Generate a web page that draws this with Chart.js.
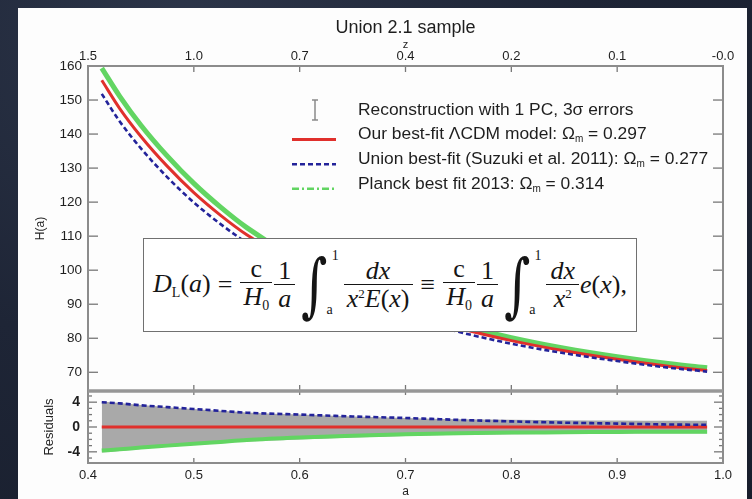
<!DOCTYPE html>
<html>
<head>
<meta charset="utf-8">
<script src="https://cdn.jsdelivr.net/npm/chart.js@4.4.1/dist/chart.umd.min.js"></script>
<style>
  html, body { margin: 0; padding: 0; }
  body {
    width: 752px; height: 499px; overflow: hidden; position: relative;
    background: radial-gradient(ellipse at 25% 5%, #2c3549 0%, #1e2536 50%, #181e2c 100%);
  }
  #panel { position: absolute; left: 18px; top: 8px; width: 729px; height: 491px; background: #fdfdfd; }
  #chart { display: block; }
  #formula {
    position: absolute; left: 125px; top: 230px; width: 494px; height: 94px;
    box-sizing: border-box; border: 1.5px solid #707070; background: #fff;
    display: flex; align-items: center; justify-content: center;
    font-family: "Liberation Serif", "DejaVu Serif", serif; font-size: 26px; color: #151515;
    white-space: nowrap;
  }
  #formula i { font-style: italic; }
  #formula sub { font-size: 14px; vertical-align: -5px; }
  #formula sup { font-size: 13px; vertical-align: 9px; }
  .op { margin: 0 7px; }
  .frac { display: inline-flex; flex-direction: column; align-items: center; margin: 0 1px; }
  .frac .num { border-bottom: 1.4px solid #151515; padding: 0 4px 0; line-height: 1.0; text-align: center; align-self: stretch; }
  .frac .den { line-height: 1.05; padding: 0 3px; }
  .int { position: relative; display: inline-block; margin: 0 10px 0 0; }
  .int .sign { display: inline-block; font-size: 70px; font-family: "DejaVu Serif", serif; line-height: 1; transform: scaleX(0.72); }
  .int .hi, .int .lo { position: absolute; font-size: 14px; font-family: "Liberation Serif", serif; }
  .int .hi { top: -2px; right: -6px; }
  .int .lo { bottom: 2px; right: 0px; }
</style>
</head>
<body>
<div id="panel">
  <canvas id="chart" width="729" height="491"></canvas>
  <div id="formula">
    <span><i>D</i><sub>L</sub>(<i>a</i>)</span>
    <span class="op">=</span>
    <span class="frac"><span class="num">c</span><span class="den"><i>H</i><sub>0</sub></span></span>
    <span class="frac"><span class="num">1</span><span class="den"><i>a</i></span></span>
    <span class="int"><span class="sign">∫</span><span class="hi">1</span><span class="lo">a</span></span>
    <span class="frac"><span class="num"><i>dx</i></span><span class="den"><i>x</i><sup>2</sup><i>E</i>(<i>x</i>)</span></span>
    <span class="op">≡</span>
    <span class="frac"><span class="num">c</span><span class="den"><i>H</i><sub>0</sub></span></span>
    <span class="frac"><span class="num">1</span><span class="den"><i>a</i></span></span>
    <span class="int"><span class="sign">∫</span><span class="hi">1</span><span class="lo">a</span></span>
    <span class="frac"><span class="num"><i>dx</i></span><span class="den"><i>x</i><sup>2</sup></span></span>
    <span><i>e</i>(<i>x</i>),</span>
  </div>
</div>
<script>
// scale factor a and tick labels
const aGrid = [0.413, 0.43, 0.45, 0.475, 0.5, 0.525, 0.55, 0.6, 0.65, 0.7, 0.75, 0.8, 0.85, 0.9, 0.95, 0.985];
const aTicks = [0.4, 0.5, 0.6, 0.7, 0.8, 0.9, 1.0];
const zTickLabels = ['1.5', '1.0', '0.7', '0.4', '0.2', '0.1', '-0.0'];
const hTicks = [70, 80, 90, 100, 110, 120, 130, 140, 150, 160];
const resTicks = [-4, 0, 4];

// H(a) for the three models
const hOurs   = [155.8, 147.5, 139.3, 130.5, 122.8, 116.2, 110.4, 100.9, 93.5, 87.7, 83.0, 79.3, 76.3, 73.8, 71.7, 70.5];
const hUnion  = [151.8, 143.7, 135.8, 127.3, 119.9, 113.6, 108.1, 98.9, 91.8, 86.3, 81.9, 78.4, 75.6, 73.3, 71.3, 70.2];
const hPlanck = [159.4, 151.1, 142.6, 133.5, 125.5, 118.6, 112.5, 102.6, 94.9, 88.9, 84.0, 80.2, 77.1, 74.6, 72.5, 71.3];

// residuals and the 3 sigma reconstruction band
const resOurs   = [0, 0, 0, 0, 0, 0, 0, 0, 0, 0, 0, 0, 0, 0, 0, 0];
const resUnion  = [4.0, 3.8, 3.5, 3.2, 2.9, 2.6, 2.3, 2.0, 1.7, 1.45, 1.15, 0.9, 0.7, 0.55, 0.4, 0.35];
const resPlanck = [-3.8, -3.6, -3.3, -3.0, -2.7, -2.4, -2.1, -1.7, -1.4, -1.15, -1.0, -0.9, -0.85, -0.8, -0.75, -0.75];
const bandHi = [4.1, 3.85, 3.55, 3.2, 2.9, 2.6, 2.35, 2.0, 1.7, 1.45, 1.25, 1.15, 1.1, 1.05, 1.0, 1.0];
const bandLo = [-4.1, -3.85, -3.55, -3.2, -2.9, -2.6, -2.35, -2.0, -1.7, -1.45, -1.25, -1.15, -1.1, -1.05, -1.0, -1.0];

const RED = '#e0302c';
const BLUE = '#23239a';
const GREEN = '#62d562';
const BAND = '#a9a9a9';
const TEXT = '#1e1e1e';
const SANS = '"Liberation Sans", Arial, sans-serif';
const LEGEND_SIZE = 17.4;

const pts = (ys) => aGrid.map((a, i) => ({ x: a, y: ys[i] }));

const line = (label, ys, yAxisID, color, width, extra) => Object.assign({
  label: label,
  data: pts(ys),
  yAxisID: yAxisID,
  borderColor: color,
  backgroundColor: color,
  borderWidth: width,
  pointRadius: 0,
  fill: false,
  cubicInterpolationMode: 'monotone',
}, extra || {});

const datasets = [
  // top panel
  line('Planck best fit 2013: Ω_m = 0.314', hPlanck, 'y', GREEN, 5, { order: 6, legendRow: 3, legendDash: [7, 3, 2, 3] }),
  line('Our best-fit ΛCDM model: Ω_m = 0.297', hOurs, 'y', RED, 3, { order: 4, legendRow: 1 }),
  line('Union best-fit (Suzuki et al. 2011): Ω_m = 0.277', hUnion, 'y', BLUE, 2.6, { order: 2, borderDash: [5, 3], legendRow: 2 }),
  // residual panel
  line('Reconstruction with 1 PC, 3σ errors', bandHi, 'res', BAND, 0, { order: 20, fill: '+1', backgroundColor: BAND, legendRow: 0 }),
  line('band lower', bandLo, 'res', BAND, 0, { order: 21 }),
  line('Planck residual', resPlanck, 'res', GREEN, 4, { order: 7 }),
  line('Our residual', resOurs, 'res', RED, 3, { order: 5 }),
  line('Union residual', resUnion, 'res', BLUE, 2.6, { order: 3, borderDash: [5, 3] }),
];

// frame, separator and inward tick marks on every panel edge
const panelFrame = {
  id: 'panelFrame',
  afterDatasetsDraw(chart) {
    const { ctx, chartArea: ca, scales } = chart;
    const { x, y, res } = scales;
    const seg = (x1, y1, x2, y2) => { ctx.beginPath(); ctx.moveTo(x1, y1); ctx.lineTo(x2, y2); ctx.stroke(); };
    ctx.save();
    ctx.strokeStyle = '#777';
    ctx.lineWidth = 1.3;
    x.ticks.forEach(t => {
      const px = x.getPixelForValue(t.value);
      if (px <= ca.left + 2 || px >= ca.right - 2) return;
      seg(px, y.top, px, y.top + 6);
      seg(px, y.bottom, px, y.bottom - 6);
      seg(px, res.top, px, res.top + 4);
      seg(px, res.bottom, px, res.bottom - 5);
    });
    y.ticks.forEach(t => {
      const py = y.getPixelForValue(t.value);
      seg(ca.left, py, ca.left + 10, py);
      seg(ca.right, py, ca.right - 10, py);
    });
    for (let v = Math.ceil(res.min); v <= Math.floor(res.max); v++) {
      const py = res.getPixelForValue(v);
      const len = v % 4 === 0 ? 9 : 4;
      seg(ca.left, py, ca.left + len, py);
      seg(ca.right, py, ca.right - len, py);
    }
    ctx.strokeStyle = '#8c8c8c';
    ctx.lineWidth = 2;
    ctx.strokeRect(ca.left, y.top, ca.right - ca.left, y.bottom - y.top);
    ctx.strokeRect(ca.left, res.top, ca.right - ca.left, res.bottom - res.top);
    ctx.lineWidth = 3.5;
    ctx.strokeStyle = '#979797';
    seg(ca.left, y.bottom, ca.right, y.bottom);
    ctx.restore();
  }
};

// legend in the upper right of the H(a) panel
function drawLabel(ctx, text, x, y) {
  const parts = text.split('_m');
  ctx.font = LEGEND_SIZE + 'px ' + SANS;
  ctx.fillText(parts[0], x, y);
  if (parts.length > 1) {
    let cx = x + ctx.measureText(parts[0]).width;
    ctx.font = '10px ' + SANS;
    ctx.fillText('m', cx, y + 5);
    cx += ctx.measureText('m').width;
    ctx.font = LEGEND_SIZE + 'px ' + SANS;
    ctx.fillText(parts[1], cx, y);
  }
}

const fitLegend = {
  id: 'fitLegend',
  afterDraw(chart) {
    const { ctx, chartArea } = chart;
    const x0 = chartArea.left + 204;
    const y0 = chartArea.top + 44;
    const rowH = 24.6;
    ctx.save();
    ctx.textBaseline = 'middle';
    ctx.fillStyle = TEXT;
    chart.data.datasets.forEach(ds => {
      if (ds.legendRow === undefined) return;
      const ty = y0 + ds.legendRow * rowH;
      if (ds.fill) {
        // error bar glyph for the reconstruction
        ctx.strokeStyle = '#8a8a8a';
        ctx.lineWidth = 1.5;
        const ex = x0 + 23;
        ctx.beginPath();
        ctx.moveTo(ex, ty - 10); ctx.lineTo(ex, ty + 10);
        ctx.moveTo(ex - 3, ty - 10); ctx.lineTo(ex + 3, ty - 10);
        ctx.moveTo(ex - 3, ty + 10); ctx.lineTo(ex + 3, ty + 10);
        ctx.stroke();
      } else {
        const ly = ty + 5;
        ctx.strokeStyle = ds.borderColor;
        ctx.lineWidth = ds.legendDash ? 2.4 : ds.borderWidth;
        ctx.setLineDash(ds.legendDash || ds.borderDash || []);
        ctx.beginPath();
        ctx.moveTo(x0, ly); ctx.lineTo(x0 + 44, ly);
        ctx.stroke();
        ctx.setLineDash([]);
      }
      drawLabel(ctx, ds.label, x0 + 66, ty);
    });
    ctx.restore();
  }
};

const xFont = { family: SANS, size: 13 };
const yFont = { family: SANS, size: 13.5 };

new Chart(document.getElementById('chart'), {
  type: 'line',
  data: { datasets: datasets },
  plugins: [panelFrame, fitLegend],
  options: {
    responsive: false,
    animation: false,
    layout: { padding: { right: 24 } },
    plugins: {
      legend: { display: false },
      tooltip: { enabled: false },
      title: {
        display: true,
        fullSize: false,
        text: 'Union 2.1 sample',
        color: TEXT,
        font: { family: SANS, size: 18, weight: 'normal' },
        padding: { top: 9, bottom: 0 },
      },
    },
    scales: {
      x: {
        type: 'linear', position: 'bottom', min: 0.4, max: 1.0,
        afterBuildTicks: s => { s.ticks = aTicks.map(v => ({ value: v })); },
        afterFit: s => { s.height = 36; },
        ticks: { callback: v => v.toFixed(1), padding: 5, color: TEXT, font: xFont, maxRotation: 0, autoSkip: false },
        grid: { display: false, drawTicks: false },
        border: { display: false },
        title: { display: true, text: 'a', color: TEXT, font: { family: SANS, size: 12 }, padding: { top: 0, bottom: 0 } },
      },
      xTop: {
        type: 'linear', position: 'top', min: 0.4, max: 1.0,
        afterBuildTicks: s => { s.ticks = aTicks.map(v => ({ value: v })); },
        afterFit: s => { s.height = 27.4; },
        ticks: { callback: (v, i) => zTickLabels[i], padding: 2, color: TEXT, font: xFont, maxRotation: 0, autoSkip: false },
        grid: { display: false, drawTicks: false },
        border: { display: false },
        title: { display: true, text: 'z', color: TEXT, font: { family: SANS, size: 11 }, padding: { top: 0, bottom: 0 } },
      },
      res: {
        type: 'linear', position: 'left', stack: 'panels', stackWeight: 72,
        min: -5.8, max: 5.8,
        afterBuildTicks: s => { s.ticks = resTicks.map(v => ({ value: v })); },
        afterFit: s => { s.width = 70; },
        ticks: { padding: 8, color: TEXT, font: { family: SANS, size: 14, weight: 'bold' } },
        grid: { display: false, drawTicks: false },
        border: { display: false },
        title: { display: true, text: 'Residuals', color: TEXT, font: { family: SANS, size: 13 }, padding: { top: 24, bottom: 0 } },
      },
      y: {
        type: 'linear', position: 'left', stack: 'panels', stackWeight: 325,
        min: 64.5, max: 160,
        afterBuildTicks: s => { s.ticks = hTicks.map(v => ({ value: v })); },
        afterFit: s => { s.width = 70; },
        ticks: { padding: 6, color: TEXT, font: yFont },
        grid: { display: false, drawTicks: false },
        border: { display: false },
        title: { display: true, text: 'H(a)', color: TEXT, font: { family: SANS, size: 12 }, padding: { top: 15, bottom: 0 } },
      },
    },
  },
});
</script>
</body>
</html>
